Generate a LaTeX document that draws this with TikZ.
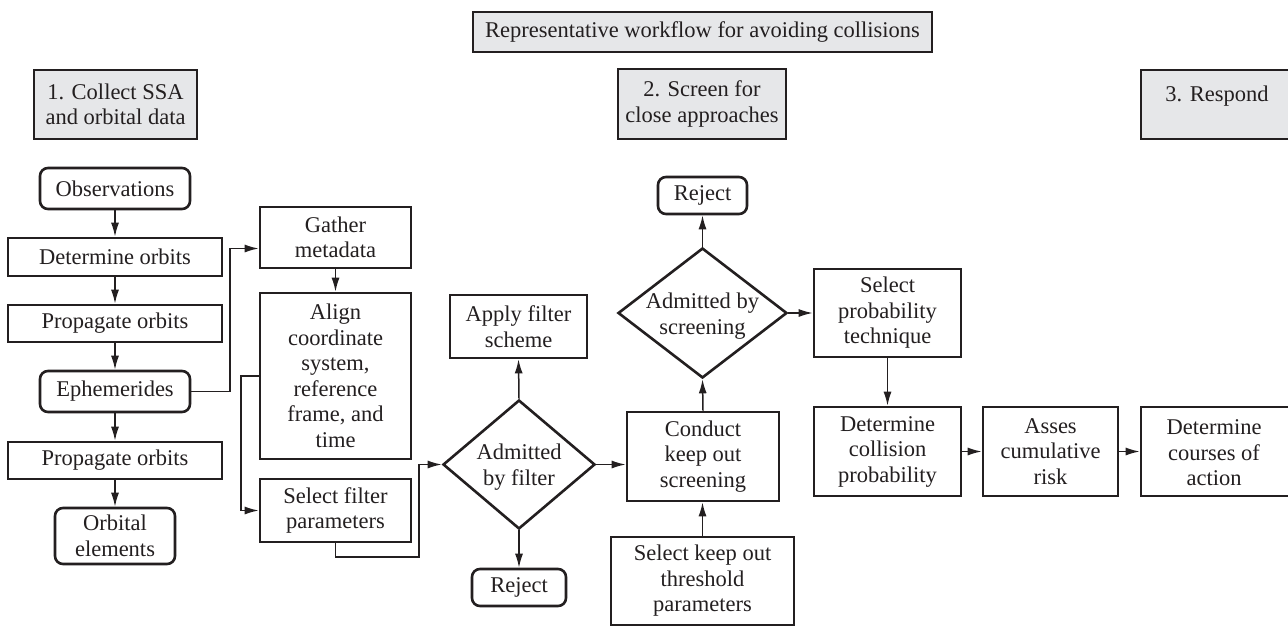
\documentclass[tikz,border=0pt]{standalone}
\usepackage{fontspec}
\setmainfont{Liberation Serif}
\usetikzlibrary{arrows.meta,shapes.geometric,calc}
\definecolor{ink}{HTML}{231F20}
\definecolor{hdr}{HTML}{E6E7E9}
\tikzset{
  box/.style={draw=ink, line width=2.6pt, inner sep=0pt, align=center, text=ink,
    font=\fontsize{22.5}{25.5}\selectfont},
  hbox/.style={box, fill=hdr},
  rbox/.style={box, rounded corners=8pt},
  dia/.style={draw=ink, line width=2.6pt, diamond, inner sep=0pt},
  txt/.style={align=center, inner sep=0pt, text=ink, font=\fontsize{22.5}{25.5}\selectfont},
  arr/.style={draw=ink, line width=1.5pt, -{Latex[length=14pt,width=8pt]}},
}
\newcommand{\bx}[7]{% style, name, x1, y1, x2, y2, text
  \node[#1, minimum width={(#5)-(#3)}, minimum height={(#6)-(#4)}] (#2) at ({((#3)+(#5))/2},{((#4)+(#6))/2}) {#7};}
\begin{document}
\begin{tikzpicture}[x=1pt,y=-1pt]
\useasboundingbox (0,0) rectangle (1288,626);
\fill[white] (0,0) rectangle (1288,626);
% headers
\bx{hbox}{title}{473}{12}{932}{52}{Representative workflow for avoiding collisions}
\bx{hbox}{h1}{34}{70}{197}{139}{1. Collect SSA\\and orbital data}
\bx{hbox}{h2}{618}{69}{786}{139}{2. Screen for\\close approaches}
\bx{hbox}{h3}{1141}{70}{1300}{139}{}
\node[txt] (h3t) at (1217,96) {3. Respond};
% column 1
\bx{rbox}{obs}{40}{168}{190}{209}{Observations}
\bx{box}{det}{8}{238}{222}{276}{Determine orbits}
\bx{box}{prop1}{8}{305}{222}{342}{Propagate orbits}
\bx{rbox}{eph}{40}{371}{190}{412}{Ephemerides}
\bx{box}{prop2}{8}{442}{222}{479}{Propagate orbits}
\bx{rbox}{orb}{55}{508}{175}{564}{Orbital\\elements}
% column 2
\bx{box}{gath}{260}{207}{411}{268}{Gather\\metadata}
\bx{box}{align}{260}{293}{411}{459}{Align\\coordinate\\system,\\reference\\frame, and\\time}
\bx{box}{self}{260}{479}{411}{542}{Select filter\\parameters}
% filter
\node[dia, minimum width=152pt, minimum height=129pt] (d1) at (519,464.5) {};
\node[txt] (d1t) at (519,467) {Admitted\\by filter};
\bx{box}{apply}{450}{295}{587}{358}{Apply filter\\scheme}
\bx{rbox}{rej1}{472}{569}{566}{606}{Reject}
% screening
\bx{box}{cond}{627}{412}{779}{501}{Conduct\\keep out\\screening}
\bx{box}{thr}{611}{537}{794}{625}{Select keep out\\threshold\\parameters}
\node[dia, minimum width=169pt, minimum height=130pt] (d2) at (702.5,313) {};
\node[txt] (d2t) at (702.5,316) {Admitted by\\screening};
\bx{rbox}{rej2}{658}{177}{747}{214}{Reject}
% respond
\bx{box}{selp}{814}{269}{961}{357}{Select\\probability\\technique}
\bx{box}{dcoll}{814}{407}{961}{496}{Determine\\collision\\probability}
\bx{box}{asses}{983}{407}{1118}{496}{Asses\\cumulative\\risk}
\bx{box}{cours}{1141}{407}{1300}{496}{}
\node[txt] (courst) at (1214,453) {Determine\\courses of\\action};
% connectors
\draw[arr] (obs) -- (det);
\draw[arr] (det) -- (prop1);
\draw[arr] (prop1) -- (eph);
\draw[arr] (eph) -- (prop2);
\draw[arr] (prop2) -- (orb);
\coordinate (gin) at ($(gath.west)+(0,11)$);
\draw[arr] (eph.east) -- (230,391.5) |- (gin);
\draw[arr] (gath) -- (align);
\draw[arr] (align.west) -- (241,376) |- (self.west);
\draw[arr] (self.south) -- (335.5,557) -| (419,464.5) -- (d1.west);
\draw[arr] (d1.north) -- (apply.south);
\draw[arr] (d1.south) -- (rej1.north);
\draw[arr] (d1.east) -- (d1.east -| cond.west);
\draw[arr] (thr.north) -- (thr.north |- cond.south);
\draw[arr] (cond.north) -- (d2.south);
\draw[arr] (d2.north) -- (rej2.south);
\draw[arr] (d2.east) -- (selp.west);
\draw[arr] (selp.south) -- (dcoll.north);
\draw[arr] (dcoll.east) -- (asses.west);
\draw[arr] (asses.east) -- (cours.west);
\end{tikzpicture}
\end{document}
